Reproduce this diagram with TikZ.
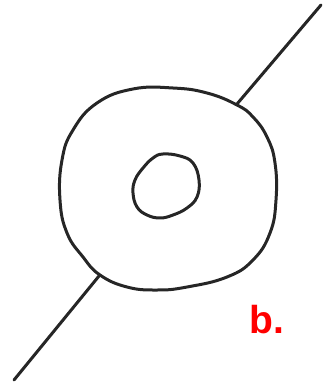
\documentclass[tikz,border=0pt]{standalone}
\usepackage{fontspec}
\setmainfont{Liberation Sans}
\begin{document}
\begin{tikzpicture}[x=1pt,y=-1pt,
  stroke/.style={line width=3pt, line cap=round, line join=round, black!85},
  lbl/.style={text=red, font=\fontsize{39}{42}\selectfont\bfseries, inner sep=0pt, anchor=south west}]
\useasboundingbox (0,0) rectangle (323,387);
% outer ring
\draw[stroke] plot[smooth cycle, tension=0.75] coordinates {
 (133,89) (97,103) (73,130) (62,160) (60,200) (67,233) (83,257) (100,275)
 (127,287) (157,290) (187,287) (227,277) (253,260) (270,233) (276,200)
 (275,163) (267,137) (253,117) (237,105) (207,93) (173,88)};
% inner ring
\draw[stroke] plot[smooth cycle, tension=0.7] coordinates {
 (163,154) (180,156) (193,163) (199,180) (197,197) (187,208) (173,215)
 (160,218) (147,215) (137,207) (133,193) (135,180) (143,168) (153,158)};
% lines
\coordinate (ua) at (237,104);
\coordinate (ub) at (321,5);
\coordinate (la) at (99,276);
\coordinate (lb) at (14,380);
\draw[stroke] (ua) -- (ub);
\draw[stroke] (la) -- (lb);
\node[lbl] (b) at (249,334) {b.};
\end{tikzpicture}
\end{document}
